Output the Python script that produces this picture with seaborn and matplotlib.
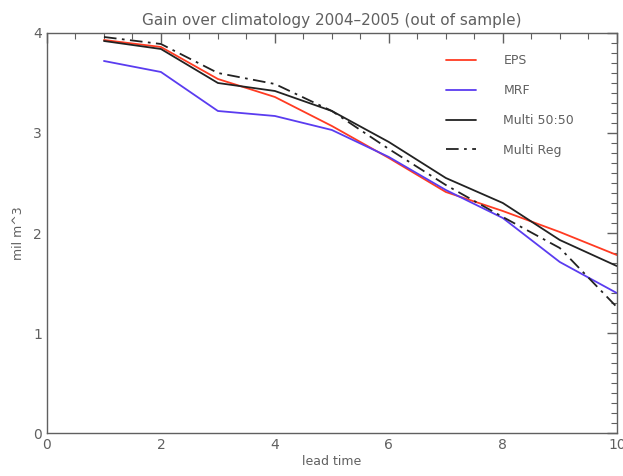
import matplotlib
matplotlib.use("Agg")
import matplotlib.pyplot as plt
import seaborn as sns
import pandas as pd
from matplotlib.ticker import MultipleLocator

lead = [1, 2, 3, 4, 5, 6, 7, 8, 9, 10]
eps = [3.93, 3.86, 3.54, 3.36, 3.07, 2.75, 2.41, 2.22, 2.01, 1.78]
mrf = [3.72, 3.61, 3.22, 3.17, 3.03, 2.76, 2.43, 2.15, 1.71, 1.40]
multi5050 = [3.92, 3.84, 3.50, 3.42, 3.22, 2.91, 2.55, 2.30, 1.93, 1.67]
multireg = [3.96, 3.89, 3.60, 3.49, 3.22, 2.84, 2.48, 2.16, 1.85, 1.26]
series_names = ["EPS", "MRF", "Multi 50:50", "Multi Reg"]

sns.set_style("white")
plt.rcParams['font.family'] = ['DejaVu Sans']

gray = "#606060"
fig = plt.figure(figsize=(6.23, 4.76), dpi=100)
ax = fig.add_axes([0.0754, 0.0903, 0.9146, 0.8404])

styles = {
    "EPS": dict(color="#ff3b22", linestyle="-"),
    "MRF": dict(color="#5a3cf0", linestyle="-"),
    "Multi 50:50": dict(color="#222222", linestyle="-"),
    "Multi Reg": dict(color="#222222", linestyle=(0, (7, 3, 1.5, 3))),
}
for name, vals in zip(series_names, [eps, mrf, multi5050, multireg]):
    df = pd.DataFrame({"lead": lead, "val": vals})
    sns.lineplot(data=df, x="lead", y="val", ax=ax, label=name,
                 linewidth=1.3, **styles[name])

ax.set_xlim(0, 10)
ax.set_ylim(0, 4)
ax.xaxis.set_major_locator(MultipleLocator(2))
ax.xaxis.set_minor_locator(MultipleLocator(0.5))
ax.yaxis.set_major_locator(MultipleLocator(1))
ax.yaxis.set_minor_locator(MultipleLocator(0.1))
ax.tick_params(which="both", direction="in", top=True, right=True,
               colors=gray, labelcolor=gray, labelsize=10)
ax.tick_params(which="major", length=7, width=1)
ax.tick_params(which="minor", length=4, width=0.8)
for s in ax.spines.values():
    s.set_color(gray)
    s.set_linewidth(1)
ax.set_xlabel("lead time", color=gray, fontsize=9, labelpad=2)
ax.set_ylabel("mil m^3", color=gray, fontsize=9, labelpad=6)
ax.set_title("Gain over climatology 2004\u20132005 (out of sample)",
             color=gray, fontsize=11, pad=6)

leg = ax.legend(loc="upper right", bbox_to_anchor=(0.945, 0.975), frameon=False,
                fontsize=9, handlelength=2.4, handletextpad=2.2,
                labelspacing=1.35, labelcolor=gray)

fig.savefig("out.png", dpi=100)
